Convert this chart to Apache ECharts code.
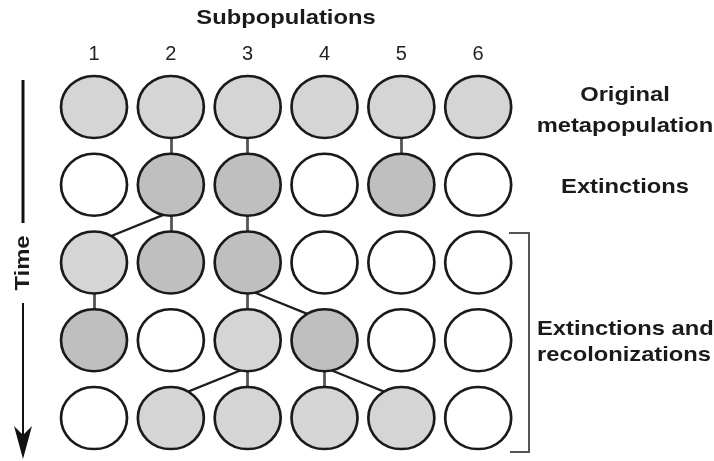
<!DOCTYPE html>
<html>
<head>
<meta charset="utf-8">
<script src="https://cdn.jsdelivr.net/npm/echarts@6/dist/echarts.min.js"></script>
<style>
html,body{margin:0;padding:0;background:#fff;}
#c{width:714px;height:461px;}
</style>
</head>
<body>
<div id="c"></div>
<script>
// ---- data ----
var subpopulations = ['1', '2', '3', '4', '5', '6'];
var axisTitle = 'Subpopulations';
var stageLabels = ['Original\nmetapopulation', 'Extinctions', 'Extinctions and\nrecolonizations'];
var timeLabel = 'Time';
// occupancy state per time step (row) and subpopulation (column): 0 empty, 1 light, 2 dark
var row1 = [1, 1, 1, 1, 1, 1];
var row2 = [0, 2, 2, 0, 2, 0];
var row3 = [1, 2, 2, 0, 0, 0];
var row4 = [2, 0, 1, 2, 0, 0];
var row5 = [0, 1, 1, 1, 1, 0];
var states = [row1, row2, row3, row4, row5];
// lineage links: [fromRow, fromCol, toRow, toCol] (0-based)
var links = [
  [0, 1, 1, 1], [0, 2, 1, 2], [0, 4, 1, 4],
  [1, 1, 2, 1], [1, 1, 2, 0], [1, 2, 2, 2],
  [2, 0, 3, 0], [2, 2, 3, 2], [2, 2, 3, 3],
  [3, 2, 4, 2], [3, 2, 4, 1], [3, 3, 4, 3], [3, 3, 4, 4]
];

// ---- build ----
var fills = ['#ffffff', '#d5d5d5', '#bfbfbf'];
var points = [];
states.forEach(function (row, r) {
  row.forEach(function (s, c) {
    points.push({ value: [c, r], itemStyle: { color: fills[s] } });
  });
});
var lineData = links.map(function (l) {
  var diag = l[1] !== l[3];
  var coords = diag
    ? [[l[1], l[0] + 0.35], [l[3], l[2] - 0.25]]
    : [[l[1], l[0]], [l[3], l[2]]];
  return {
    coords: coords,
    lineStyle: diag ? { color: '#1e1e1e', width: 2.3, opacity: 1 } : { color: '#555555', width: 2.8, opacity: 1 }
  };
});

var font = 'Liberation Sans, Arial, Helvetica, sans-serif';
var boldFont = 'bold 21px ' + font;
var sx = 1.13;
var chart = echarts.init(document.getElementById('c'));
chart.setOption({
  backgroundColor: '#ffffff',
  animation: false,
  grid: { left: 55.6, right: 197.4, top: 68, bottom: 4 },
  xAxis: [
    {
      type: 'category', data: subpopulations, position: 'top', boundaryGap: true,
      axisLine: { show: false }, axisTick: { show: false }, splitLine: { show: false },
      axisLabel: { fontSize: 20, color: '#222', fontFamily: font, margin: 4 }
    },
    { type: 'value', min: -0.5, max: 5.5, show: false }
  ],
  yAxis: [
    { type: 'value', inverse: true, min: -0.5, max: 4.5, show: false }
  ],
  series: [
    {
      type: 'lines', coordinateSystem: 'cartesian2d', xAxisIndex: 1, yAxisIndex: 0,
      polyline: false, z: 1, silent: true, symbol: 'none',
      lineStyle: { opacity: 1, color: '#555', width: 2.5 },
      data: lineData
    },
    {
      type: 'scatter', xAxisIndex: 1, yAxisIndex: 0, z: 3,
      symbol: 'circle', symbolSize: [66, 62],
      itemStyle: { borderColor: '#1a1a1a', borderWidth: 2.6, opacity: 1 },
      data: points
    }
  ],
  graphic: [
    { type: 'text', x: 286, y: 18, scaleX: sx, style: { text: axisTitle, font: boldFont, fill: '#1a1a1a', align: 'center', verticalAlign: 'middle' } },
    { type: 'text', x: 625, y: 111, scaleX: sx, style: { text: stageLabels[0], font: boldFont, fill: '#1a1a1a', align: 'center', verticalAlign: 'middle', lineHeight: 31 } },
    { type: 'text', x: 625, y: 187, scaleX: sx, style: { text: stageLabels[1], font: boldFont, fill: '#1a1a1a', align: 'center', verticalAlign: 'middle' } },
    { type: 'text', x: 537, y: 342, scaleX: sx, style: { text: stageLabels[2], font: boldFont, fill: '#1a1a1a', align: 'left', verticalAlign: 'middle', lineHeight: 26 } },
    { type: 'polyline', shape: { points: [[509, 233], [529, 233], [529, 452], [510, 452]] }, style: { stroke: '#555', lineWidth: 2, fill: null } },
    { type: 'line', shape: { x1: 23, y1: 80, x2: 23, y2: 223 }, style: { stroke: '#111', lineWidth: 3 } },
    { type: 'text', x: 23, y: 263, rotation: Math.PI / 2, scaleX: sx, style: { text: timeLabel, font: boldFont, fill: '#1a1a1a', align: 'center', verticalAlign: 'middle' } },
    { type: 'line', shape: { x1: 23, y1: 303, x2: 23, y2: 440 }, style: { stroke: '#111', lineWidth: 2 } },
    { type: 'polygon', shape: { points: [[23, 459], [14, 426], [23, 435], [32, 426]] }, style: { fill: '#111' } }
  ]
});
</script>
</body>
</html>
